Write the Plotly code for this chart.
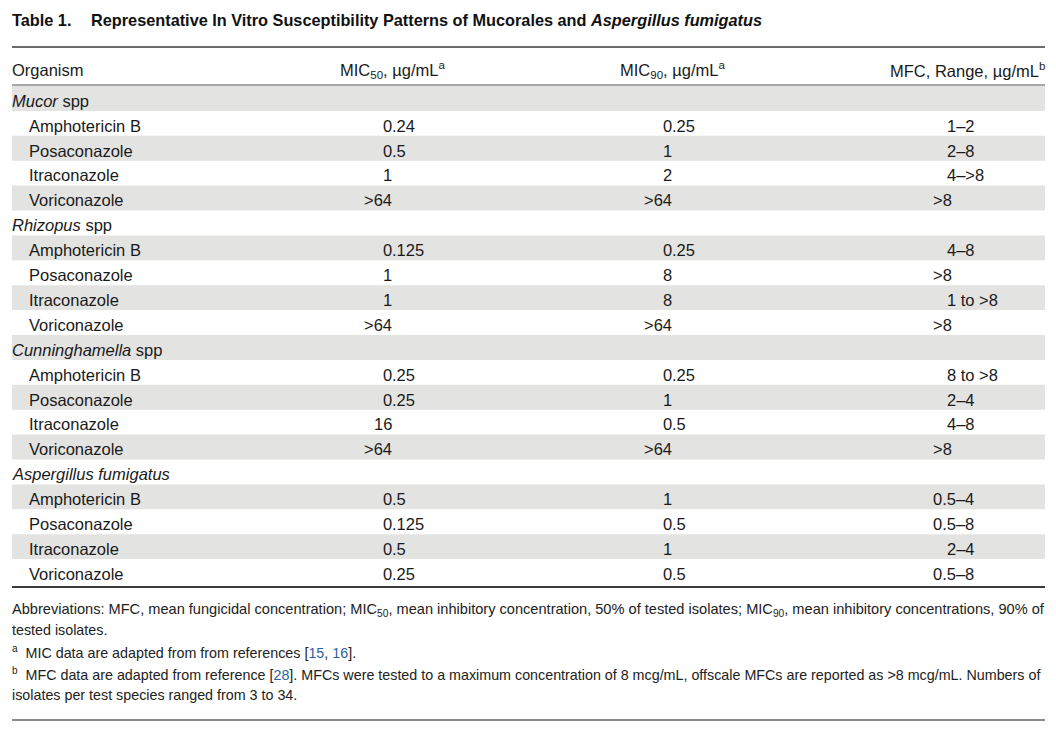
import plotly.graph_objects as go

# ---------------- data ----------------
title_label = "Table 1."
title_text = "Representative In Vitro Susceptibility Patterns of Mucorales and <i>Aspergillus fumigatus</i>"

col_headers = ["Organism", "MIC<sub>50</sub>, µg/mL<sup>a</sup>",
               "MIC<sub>90</sub>, µg/mL<sup>a</sup>", "MFC, Range, µg/mL<sup>b</sup>"]

organisms = ["<i>Mucor</i> spp", "<i>Rhizopus</i> spp",
             "<i>Cunninghamella</i> spp", "<i>Aspergillus fumigatus</i>"]
drugs = ["Amphotericin B", "Posaconazole", "Itraconazole", "Voriconazole"]

mic50_mucor = ["0.24", "0.5", "1", ">64"]
mic50_rhizopus = ["0.125", "1", "1", ">64"]
mic50_cunning = ["0.25", "0.25", "16", ">64"]
mic50_asperg = ["0.5", "0.125", "0.5", "0.25"]

mic90_mucor = ["0.25", "1", "2", ">64"]
mic90_rhizopus = ["0.25", "8", "8", ">64"]
mic90_cunning = ["0.25", "1", "0.5", ">64"]
mic90_asperg = ["1", "0.5", "1", "0.5"]

mfc_mucor = ["1–2", "2–8", "4–>8", ">8"]
mfc_rhizopus = ["4–8", ">8", "1 to >8", ">8"]
mfc_cunning = ["8 to >8", "2–4", "4–8", ">8"]
mfc_asperg = ["0.5–4", "0.5–8", "2–4", "0.5–8"]

footnotes = [
    "Abbreviations: MFC, mean fungicidal concentration; MIC<sub>50</sub>, mean inhibitory concentration, 50% of tested isolates; MIC<sub>90</sub>, mean inhibitory concentrations, 90% of",
    "tested isolates.",
    "<sup>a</sup>  MIC data are adapted from from references [<span style='color:#2b5f9e'>15</span>, <span style='color:#2b5f9e'>16</span>].",
    "<sup>b</sup>  MFC data are adapted from reference [<span style='color:#2b5f9e'>28</span>]. MFCs were tested to a maximum concentration of 8 mcg/mL, offscale MFCs are reported as >8 mcg/mL. Numbers of",
    "isolates per test species ranged from 3 to 34.",
]

mic50 = [mic50_mucor, mic50_rhizopus, mic50_cunning, mic50_asperg]
mic90 = [mic90_mucor, mic90_rhizopus, mic90_cunning, mic90_asperg]
mfc = [mfc_mucor, mfc_rhizopus, mfc_cunning, mfc_asperg]

# ---------------- layout constants ----------------
W, H = 1056, 732
OFF = 8  # page body margin
LEFT, RIGHT = 12, 1045
BODY_FONT = "Liberation Sans, Arial, sans-serif"
TXT = "#1a1a1a"
FS = 16.5
ROW_TOP = 86.0
ROW_H = 24.9
DEC50, DEC90 = 392, 672
MFC_X, MFC_HANG_X = 947, 933

fig = go.Figure()
fig.add_trace(go.Scatter(x=[OFF, W - OFF], y=[OFF, H - OFF], mode="markers",
                         marker=dict(opacity=0), hoverinfo="skip", showlegend=False))

annotations = []
shapes = []


def ann(x, y, text, xanchor="left", size=FS, color=TXT):
    annotations.append(dict(x=x, y=y, xref="x", yref="y", text=text, showarrow=False,
                            xanchor=xanchor, yanchor="middle", borderpad=0, borderwidth=0,
                            font=dict(family=BODY_FONT, size=size, color=color)))


def hline(y, color, width):
    shapes.append(dict(type="line", xref="x", yref="y", x0=LEFT, x1=RIGHT, y0=y, y1=y,
                       line=dict(color=color, width=width)))


def decimal(xdec, y, v):
    if "." in v:
        ip, fp = v.split(".", 1)
        ann(xdec, y, ip, xanchor="right")
        ann(xdec, y, "." + fp, xanchor="left")
    else:
        ann(xdec, y, v, xanchor="right")


# title
ann(LEFT, 20, "<b>" + title_label + "</b>", size=16.3, color="#111")
ann(91, 20, "<b>" + title_text + "</b>", size=16.3, color="#111")

# rules
hline(47, "#3a3a3a", 1.5)
hline(85, "#8a8a8a", 1.5)

# header
hy = 70
ann(LEFT, hy, col_headers[0])
ann(DEC50, hy, col_headers[1], xanchor="center")
ann(DEC90, hy, col_headers[2], xanchor="center")
ann(RIGHT, hy, col_headers[3], xanchor="right")

# body rows
rows = []
for g, org in enumerate(organisms):
    rows.append(("group", org, None, None, None))
    for d, drug in enumerate(drugs):
        rows.append(("drug", drug, mic50[g][d], mic90[g][d], mfc[g][d]))

for i, (kind, label, v50, v90, vmfc) in enumerate(rows):
    top = ROW_TOP + i * ROW_H
    cy = top + ROW_H / 2 + 2.3
    if i % 2 == 0:
        shapes.append(dict(type="rect", xref="x", yref="y", x0=LEFT, x1=RIGHT,
                           y0=top, y1=top + ROW_H, line=dict(width=0),
                           fillcolor="#e3e3e2", layer="below"))
    if kind == "group":
        ann(LEFT, cy, label)
    else:
        ann(29, cy, label)
        decimal(DEC50, cy, v50)
        decimal(DEC90, cy, v90)
        if vmfc.startswith(">") or vmfc.startswith("0."):
            ann(MFC_HANG_X, cy, vmfc)
        else:
            ann(MFC_X, cy, vmfc)

hline(587, "#3a3a3a", 2)

# footnotes
foot_y = [610, 630, 652, 674, 695]
foot_size = [14.6, 14.3, 14.3, 14.3, 14.3]
for fy, fs, ft in zip(foot_y, foot_size, footnotes):
    ann(LEFT, fy, ft, size=fs, color="#222")

hline(720, "#8a8a8a", 2)

fig.update_layout(
    width=W - 2 * OFF, height=H - 2 * OFF, margin=dict(l=0, r=0, t=0, b=0),
    paper_bgcolor="white", plot_bgcolor="white",
    xaxis=dict(range=[OFF, W - OFF], visible=False, fixedrange=True),
    yaxis=dict(range=[H - OFF, OFF], visible=False, fixedrange=True),
    annotations=annotations, shapes=shapes, showlegend=False,
)

fig.write_html("out.html")
